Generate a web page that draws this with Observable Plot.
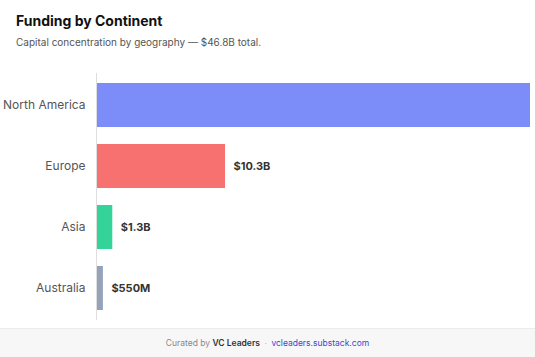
<!DOCTYPE html>
<html>
<head>
<meta charset="utf-8">
<script src="https://cdn.jsdelivr.net/npm/d3@7"></script>
<script src="https://cdn.jsdelivr.net/npm/@observablehq/plot@0.6"></script>
<style>
  html, body { margin: 0; padding: 0; background: #fff; overflow: hidden; width: 535px; height: 357px; font-family: "Inter", "Noto Sans", sans-serif; }
  #wrap { position: relative; width: 535px; height: 357px; }
  .title { position: absolute; left: 16px; top: 12px; margin: 0; font-family: "Inter"; font-size: 14px; line-height: 17px; font-weight: 700; color: #111; }
  .sub { position: absolute; left: 16px; top: 36px; margin: 0; font-family: "Inter"; font-size: 10px; line-height: 13px; color: #555; }
  #chart { position: absolute; left: 0; top: 60px; }
  .footer { position: absolute; left: 0; top: 328px; width: 535px; height: 29px; background: #f7f7f8; border-top: 1px solid #ececec; box-sizing: border-box; text-align: center; font-family: "Inter"; font-size: 8.5px; line-height: 28px; color: #888; }
  .footer b { color: #333; font-weight: 600; }
  .footer .dot { color: #bbb; margin: 0 4.5px; }
  .footer .link { color: #3a47d5; }
</style>
</head>
<body>
<div id="wrap">
  <div class="title">Funding by Continent</div>
  <div class="sub">Capital concentration by geography — $46.8B total.</div>
  <div id="chart"></div>
  <div class="footer">Curated by <b>VC Leaders</b><span class="dot">·</span><span class="link">vcleaders.substack.com</span></div>
</div>
<script>
const continents = ["North America", "Europe", "Asia", "Australia"];
const funding = [34.65, 10.3, 1.3, 0.55]; // $B
// North America's value label sits past the right edge in the reference, so it is not shown
const valueLabels = ["", "$10.3B", "$1.3B", "$550M"];
const colors = ["#7c8cf8", "#f87171", "#34d399", "#94a3b8"];

const data = continents.map((c, i) => ({continent: c, value: funding[i], label: valueLabels[i], color: colors[i]}));

const chart = Plot.plot({
  width: 535,
  height: 265,
  marginLeft: 96,
  marginRight: 5,
  marginTop: 13,
  marginBottom: 5,
  style: {fontFamily: "Inter", background: "transparent"},
  x: {domain: [0, d3.max(funding)], axis: null},
  y: {domain: continents, paddingInner: 0.28, paddingOuter: 0.14, label: null},
  marks: [
    Plot.axisY({tickSize: 0, tickPadding: 11, fontSize: 12, color: "#555", label: null}),
    Plot.barX(data, {x: "value", y: "continent", fill: "color"}),
    Plot.ruleX([0], {stroke: "#dedede", strokeWidth: 1}),
    Plot.text(data.filter(d => d.label), {x: "value", y: "continent", text: "label", dx: 8, textAnchor: "start", fontSize: 11, fontWeight: 700, fill: "#333"})
  ]
});
document.getElementById("chart").appendChild(chart);
</script>
</body>
</html>
